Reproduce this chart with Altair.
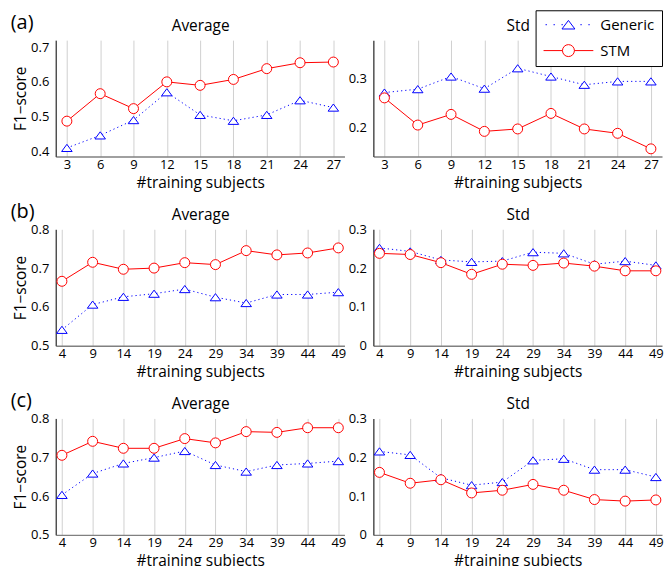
import altair as alt
import pandas as pd

SERIES = ["Generic", "STM"]

x_a = [3, 6, 9, 12, 15, 18, 21, 24, 27]
x_bc = [4, 9, 14, 19, 24, 29, 34, 39, 44, 49]

a_avg_generic = [0.410, 0.446, 0.490, 0.570, 0.505, 0.488, 0.505, 0.547, 0.526]
a_avg_stm = [0.487, 0.566, 0.523, 0.600, 0.590, 0.607, 0.638, 0.655, 0.657]
a_std_generic = [0.272, 0.279, 0.305, 0.280, 0.322, 0.305, 0.288, 0.295, 0.295]
a_std_stm = [0.261, 0.205, 0.227, 0.192, 0.197, 0.229, 0.197, 0.188, 0.156]

b_avg_generic = [0.541, 0.606, 0.626, 0.634, 0.646, 0.625, 0.610, 0.632, 0.632, 0.638]
b_avg_stm = [0.666, 0.715, 0.697, 0.700, 0.714, 0.709, 0.745, 0.734, 0.739, 0.752]
b_std_generic = [0.252, 0.243, 0.221, 0.216, 0.218, 0.241, 0.238, 0.210, 0.218, 0.207]
b_std_stm = [0.238, 0.235, 0.214, 0.184, 0.210, 0.207, 0.213, 0.205, 0.193, 0.193]

c_avg_generic = [0.603, 0.658, 0.684, 0.699, 0.716, 0.680, 0.663, 0.680, 0.684, 0.690]
c_avg_stm = [0.705, 0.741, 0.723, 0.723, 0.748, 0.737, 0.766, 0.764, 0.776, 0.776]
c_std_generic = [0.215, 0.206, 0.147, 0.128, 0.136, 0.192, 0.196, 0.168, 0.168, 0.149]
c_std_stm = [0.161, 0.133, 0.142, 0.108, 0.115, 0.130, 0.115, 0.091, 0.087, 0.090]

BLUE = "#0000ff"
RED = "#ff0000"
FONT = "Open Sans"
W, H = 290, 117

TRI = "M0,-0.68L1,0.68L-1,0.68Z"

# legend symbols (line + marker), drawn in pixel units (symbol size 4 -> scale 1)
def dots(x0, x1, step=8.0, ln=1.4):
    out = []
    x = x0
    while x < x1:
        out.append(f"M{x:.1f},0h{ln}")
        x += step
    return "".join(out)

LEG_GEN = (dots(-4.5, 12.0) + dots(30.5, 43.5)
           + "M18.5,-4.3L25,4.3L12,4.3Z")
LEG_STM = ("M-6.5,0L12.5,0M24.5,0L43.5,0"
           "M24.5,0A6,6 0 1,1 12.5,0A6,6 0 1,1 24.5,0Z")


def make_df(xs, gen, stm):
    return pd.DataFrame({
        "n": list(xs) * 2,
        "v": list(gen) + list(stm),
        "series": ["Generic"] * len(xs) + ["STM"] * len(xs),
    })


def panel(xs, gen, stm, xdom, ydom, yticks, top_title, ytitle, label=None, legend=False):
    df = make_df(xs, gen, stm)
    base = alt.Chart(df)
    xscale = alt.Scale(domain=xdom, nice=False, zero=False)
    yscale = alt.Scale(domain=ydom, nice=False, zero=False)
    y = alt.Y("v:Q", scale=yscale,
              axis=alt.Axis(values=yticks, format=".1~f", title=ytitle, grid=False,
                            ticks=False, domainColor="#505050", domainWidth=1.5,
                            labelPadding=7, labelFontSize=13, labelColor="black",
                            titleFontSize=15.5, titleFontWeight="normal",
                            titleColor="black", titlePadding=2))
    x_bottom = alt.X("n:Q", scale=xscale,
                     axis=alt.Axis(values=xs, grid=True, gridColor="#d0d0d0", gridWidth=1,
                                   ticks=False, domainColor="#808080", domainWidth=1.5,
                                   labelPadding=2, labelFontSize=13, labelColor="black",
                                   labelFlush=False,
                                   title="#training subjects", titleFontSize=15.5,
                                   titleFontWeight="normal", titleColor="black",
                                   titlePadding=4))
    x_none = alt.X("n:Q", scale=xscale, axis=None)
    x_top = alt.X("n:Q", scale=xscale,
                  axis=alt.Axis(orient="top", labels=False, ticks=False, domain=False,
                                grid=False, title=top_title, titleFontSize=15.5,
                                titleFontWeight="normal", titleColor="black",
                                titlePadding=10, titleBaseline="alphabetic"))
    g = base.transform_filter(alt.datum.series == "Generic")
    s = base.transform_filter(alt.datum.series == "STM")
    l1 = g.mark_line(color=BLUE, strokeDash=[1.2, 3], strokeWidth=1).encode(x=x_bottom, y=y)
    l2 = g.mark_point(shape=TRI, size=112, filled=True, fill="white", stroke=BLUE,
                      strokeWidth=1, opacity=1).encode(x=x_none, y=y)
    l3 = s.mark_line(color=RED, strokeWidth=1).encode(x=x_none, y=y)
    l4 = s.mark_point(shape="circle", size=100, filled=True, fill="white", stroke=RED,
                      strokeWidth=1, opacity=1).encode(x=x_top, y=y)
    layers = [l1, l2, l3, l4]
    if legend:
        leg = alt.Legend(title=None, orient="none", legendX=482, legendY=-30,
                         direction="vertical", columns=1,
                         strokeColor="black", fillColor="white", padding=7,
                         cornerRadius=0, symbolSize=4, symbolStrokeWidth=1,
                         symbolFillColor="white",
                         labelFont=FONT, labelFontSize=15, labelColor="black",
                         labelOffset=43, rowPadding=9)
        ldf = pd.DataFrame({"series": SERIES})
        l5 = (alt.Chart(ldf).transform_filter("false")
              .mark_point(filled=False, size=4, strokeWidth=1, opacity=1)
              .encode(shape=alt.Shape("series:N",
                                      scale=alt.Scale(domain=SERIES, range=[LEG_GEN, LEG_STM]),
                                      legend=leg),
                      stroke=alt.Stroke("series:N",
                                        scale=alt.Scale(domain=SERIES, range=[BLUE, RED]),
                                        legend=leg)))
        layers.append(l5)
    ch = alt.layer(*layers).resolve_axis(x="independent").properties(width=W, height=H)
    if label:
        ch = ch.properties(title=alt.Title(label, anchor="start", frame="bounds",
                                           fontSize=20, fontWeight="normal", font=FONT,
                                           color="black", baseline="alphabetic",
                                           offset=0, dx=-3, dy=31))
    return ch


XA = [2, 28]
XB = [3, 50]
p1 = panel(x_a, a_avg_generic, a_avg_stm, XA, [0.385, 0.72], [0.4, 0.5, 0.6, 0.7],
           "Average", "F1\u2212score", label="(a)")
p2 = panel(x_a, a_std_generic, a_std_stm, XA, [0.14, 0.38], [0.2, 0.3],
           "Std", None, legend=True)
p3 = panel(x_bc, b_avg_generic, b_avg_stm, XB, [0.5, 0.8], [0.5, 0.6, 0.7, 0.8],
           "Average", "F1\u2212score", label="(b)")
p4 = panel(x_bc, b_std_generic, b_std_stm, XB, [0, 0.3], [0, 0.1, 0.2, 0.3],
           "Std", None)
p5 = panel(x_bc, c_avg_generic, c_avg_stm, XB, [0.5, 0.8], [0.5, 0.6, 0.7, 0.8],
           "Average", "F1\u2212score", label="(c)")
p6 = panel(x_bc, c_std_generic, c_std_stm, XB, [0, 0.3], [0, 0.1, 0.2, 0.3],
           "Std", None)

chart = (alt.concat(p1, p2, p3, p4, p5, p6, columns=2,
                    spacing={"row": 73, "column": 29}, bounds="flush")
         .properties(padding={"left": 2, "top": 0, "right": 0, "bottom": 0})
         .configure(font=FONT)
         .configure_view(stroke=None)
         .configure_axis(labelFont=FONT, titleFont=FONT))

chart.save("out.html", embed_options={"renderer": "svg", "actions": False})
